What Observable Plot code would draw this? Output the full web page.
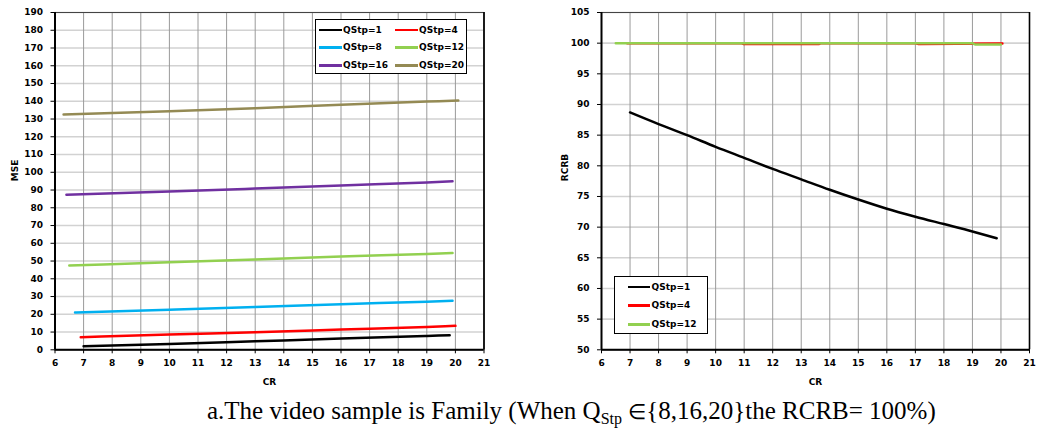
<!DOCTYPE html>
<html>
<head>
<meta charset="utf-8">
<script src="https://cdn.jsdelivr.net/npm/d3@7"></script>
<script src="https://cdn.jsdelivr.net/npm/@observablehq/plot@0.6"></script>
<style>
  html, body { margin: 0; padding: 0; background: #fff; }
  #wrap { position: relative; width: 1038px; height: 430px; overflow: hidden; }
  #wrap svg { position: absolute; top: 0; }
  .legend { position: absolute; border: 1.5px solid #000; background: #fff; box-sizing: border-box;
            font-family: "DejaVu Sans", sans-serif; font-weight: bold; font-size: 9px; color: #000; }
  .legend .item { position: absolute; height: 12px; line-height: 12px; white-space: nowrap; }
  .legend .swatch { position: absolute; top: 5px; height: 2.5px; }
  .legend .lbl { position: absolute; top: 0; }
  #caption { position: absolute; left: 207px; top: 398px; white-space: nowrap;
             font-family: "Liberation Serif", "Times New Roman", serif; font-size: 25px; line-height: 1; color: #000; }
  #caption sub { font-size: 16px; vertical-align: -5px; line-height: 0; }
  #caption .elem { font-size: 21px; }
</style>
</head>
<body>
<div id="wrap"></div>
<script>
// Shared CR axis
const crTicks = [6, 7, 8, 9, 10, 11, 12, 13, 14, 15, 16, 17, 18, 19, 20, 21];

// MSE vs CR, one series per quantisation step
const mseTicks = [0, 10, 20, 30, 40, 50, 60, 70, 80, 90, 100, 110, 120, 130, 140, 150, 160, 170, 180, 190];
const mseSeries = ["QStp=1", "QStp=4", "QStp=8", "QStp=12", "QStp=16", "QStp=20"];
const mseColors = ["#000000", "#ff0000", "#00b0f0", "#92d050", "#7030a0", "#948a54"];
const crQ1 = [7, 10, 13, 16, 19, 19.8];
const mseQ1 = [2.0, 3.3, 4.8, 6.3, 7.8, 8.2];
const crQ4 = [6.9, 10, 13, 16, 19, 20];
const mseQ4 = [7.1, 8.6, 9.9, 11.4, 12.9, 13.5];
const crQ8 = [6.7, 10, 13, 16, 19, 19.9];
const mseQ8 = [21.0, 22.6, 24.1, 25.7, 27.1, 27.6];
const crQ12 = [6.5, 10, 13, 16, 19, 19.9];
const mseQ12 = [47.5, 49.3, 50.9, 52.6, 54.0, 54.5];
const crQ16 = [6.4, 10, 13, 16, 19, 19.9];
const mseQ16 = [87.4, 89.1, 90.8, 92.6, 94.3, 94.9];
const crQ20 = [6.3, 10, 13, 16, 19, 20.1];
const mseQ20 = [132.5, 134.4, 136.1, 138.0, 139.8, 140.5];

// RCRB vs CR
const rcrbTicks = [50, 55, 60, 65, 70, 75, 80, 85, 90, 95, 100, 105];
const rcrbSeries = ["QStp=1", "QStp=4", "QStp=12"];
const rcrbColors = ["#000000", "#ff0000", "#92d050"];
const rcrbCrQ1 = [7, 8, 9, 10, 11, 12, 13, 14, 15, 16, 17, 18, 19, 19.85];
const rcrbQ1 = [88.7, 86.8, 85.0, 83.1, 81.3, 79.5, 77.8, 76.1, 74.5, 73.0, 71.7, 70.5, 69.3, 68.2];
const rcrbCrQ4 = [6.9, 10.9, 11.0, 13.6, 13.7, 17.0, 17.1, 20.05];
const rcrbQ4 = [100, 100, 99.85, 99.85, 100, 100, 99.87, 99.93];
const rcrbCrQ12 = [6.5, 19.0, 19.1, 20.0];
const rcrbQ12 = [99.97, 99.97, 99.77, 99.77];

const rows = (name, xs, ys) => xs.map((x, i) => ({series: name, cr: x, v: ys[i]}));

const mseRows = [
  ...rows("QStp=1", crQ1, mseQ1),
  ...rows("QStp=4", crQ4, mseQ4),
  ...rows("QStp=8", crQ8, mseQ8),
  ...rows("QStp=12", crQ12, mseQ12),
  ...rows("QStp=16", crQ16, mseQ16),
  ...rows("QStp=20", crQ20, mseQ20)
];
const rcrbRows = [
  ...rows("QStp=4", rcrbCrQ4, rcrbQ4),
  ...rows("QStp=12", rcrbCrQ12, rcrbQ12),
  ...rows("QStp=1", rcrbCrQ1, rcrbQ1)
];

const baseStyle = {fontFamily: "DejaVu Sans, sans-serif", fontWeight: "bold", fontSize: "9px", color: "#000", background: "transparent", overflow: "visible"};

function panel({ml, mr, yDomain, yTicks, data, series, colors, yLabel, yLabelDx}) {
  return Plot.plot({
    width: 519, height: 400,
    marginLeft: ml, marginRight: mr, marginTop: 12, marginBottom: 50.7,
    style: baseStyle,
    x: {domain: [6, 21]},
    y: {domain: yDomain},
    color: {domain: series, range: colors},
    marks: [
      Plot.ruleY(yTicks, {stroke: "#d2d2d2", strokeWidth: 1.6}),
      Plot.ruleX(crTicks, {stroke: "#9a9a9a", strokeWidth: 1}),
      Plot.frame({stroke: "#444", strokeWidth: 1}),
      Plot.ruleX([6], {stroke: "#000", strokeWidth: 2}),
      Plot.ruleX([21], {stroke: "#000", strokeWidth: 1.6}),
      Plot.ruleY([yDomain[0]], {stroke: "#000", strokeWidth: 2}),
      Plot.axisX({ticks: crTicks, tickSize: 4, tickPadding: 6, tickFormat: d => d, label: null}),
      Plot.axisY({ticks: yTicks, tickSize: 4, tickPadding: 8, tickFormat: d => d, label: null}),
      Plot.line(data, {x: "cr", y: "v", z: "series", stroke: "series", strokeWidth: 2.5, curve: "monotone-x"}),
      Plot.text(["CR"], {frameAnchor: "bottom", dy: 35, fontWeight: "bold"}),
      Plot.text([yLabel], {frameAnchor: "left", dx: yLabelDx, rotate: -90, fontWeight: "bold"})
    ]
  });
}

const wrap = document.getElementById("wrap");

const left = panel({ml: 54.5, mr: 35.5, yDomain: [0, 190], yTicks: mseTicks, data: mseRows,
  series: mseSeries, colors: mseColors, yLabel: "MSE", yLabelDx: -40});
left.style.left = "0px";
wrap.appendChild(left);

const right = panel({ml: 82, mr: 9, yDomain: [50, 105], yTicks: rcrbTicks, data: rcrbRows,
  series: rcrbSeries, colors: rcrbColors, yLabel: "RCRB", yLabelDx: -36});
right.style.left = "519px";
wrap.appendChild(right);

// Legends drawn as boxed keys inside each panel
function legend({left, top, width, height, items}) {
  const box = document.createElement("div");
  box.className = "legend";
  Object.assign(box.style, {left: left + "px", top: top + "px", width: width + "px", height: height + "px"});
  for (const it of items) {
    const item = document.createElement("div");
    item.className = "item";
    item.style.left = it.x + "px";
    item.style.top = it.y + "px";
    const sw = document.createElement("div");
    sw.className = "swatch";
    sw.style.left = "0px";
    sw.style.width = it.w + "px";
    sw.style.background = it.color;
    const lbl = document.createElement("span");
    lbl.className = "lbl";
    lbl.style.left = (it.w + 1.5) + "px";
    lbl.textContent = it.name;
    item.appendChild(sw);
    item.appendChild(lbl);
    box.appendChild(item);
  }
  wrap.appendChild(box);
}

legend({left: 315, top: 18.5, width: 152, height: 55.5, items: mseSeries.map((name, i) => ({
  name, color: mseColors[i], w: 22.5,
  x: (i % 2 === 0 ? 3 : 79), y: 4 + Math.floor(i / 2) * 17.8
}))});

legend({left: 614, top: 276.3, width: 94, height: 58, items: rcrbSeries.map((name, i) => ({
  name, color: rcrbColors[i], w: 22,
  x: 13, y: 3.5 + i * 18.7
}))});

const cap = document.createElement("div");
cap.id = "caption";
cap.innerHTML = "a.The video sample is Family (When Q<sub>Stp</sub> <span class=\"elem\">\u2208</span>{8,16,20}the RCRB= 100%)";
wrap.appendChild(cap);
</script>
</body>
</html>
